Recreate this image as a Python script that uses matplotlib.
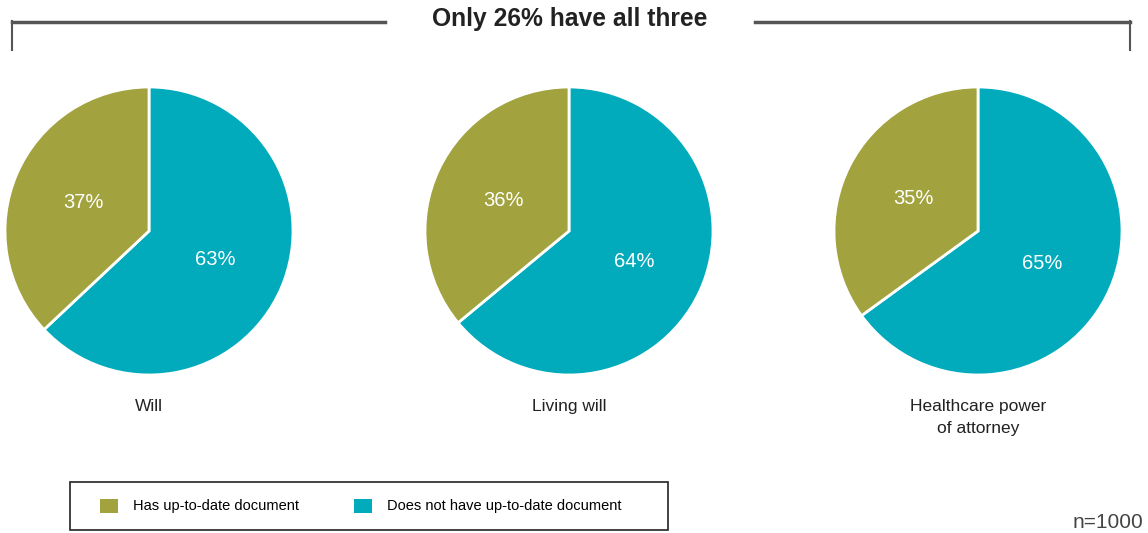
import matplotlib
matplotlib.use("Agg")
import matplotlib.pyplot as plt
from matplotlib.patches import Patch, Rectangle
from matplotlib.lines import Line2D

plt.rcParams['font.family'] = ['Liberation Sans', 'DejaVu Sans']

# Share of respondents with each document (n=1000)
documents = ['Will', 'Living will', 'Healthcare power\nof attorney']
has_doc = [37, 36, 35]
no_doc = [63, 64, 65]
legend_labels = ['Has up-to-date document', 'Does not have up-to-date document']
title = 'Only 26% have all three'
sample_note = 'n=1000'

olive = '#A2A23E'
teal = '#02ABBC'
grey = '#555555'

W, H = 1148, 533
fig = plt.figure(figsize=(W / 100, H / 100), dpi=100)


def px_axes(x0, y0, w, h):
    # pixel box (top-left origin) -> figure axes
    return fig.add_axes([x0 / W, 1 - (y0 + h) / H, w / W, h / H])


centers_x = [149, 569, 978]
cy, r = 231, 144

for cx, name, has, no in zip(centers_x, documents, has_doc, no_doc):
    ax = px_axes(cx - r, cy - r, 2 * r, 2 * r)
    ax.pie([no, has], colors=[teal, olive], startangle=90, counterclock=False,
           autopct='%d%%', pctdistance=0.5,
           wedgeprops=dict(edgecolor='white', linewidth=2),
           textprops=dict(color='white', fontsize=14.5))
    ax.set_xlim(-1.0, 1.0)
    ax.set_ylim(-1.0, 1.0)
    ax.axis('off')
    fig.text(cx / W, 1 - 399 / H, name, ha='center', va='top',
             fontsize=12.5, color='#222222', linespacing=1.55)

# title bracket across the top
fig.add_artist(Line2D([12 / W, 385 / W], [1 - 22 / H] * 2, color=grey, lw=2.5))
fig.add_artist(Line2D([755 / W, 1130 / W], [1 - 22 / H] * 2, color=grey, lw=2.5))
fig.add_artist(Line2D([12 / W] * 2, [1 - 21 / H, 1 - 50 / H], color=grey, lw=1.5))
fig.add_artist(Line2D([1130 / W] * 2, [1 - 21 / H, 1 - 50 / H], color=grey, lw=1.5))
fig.text(570 / W, 1 - 19 / H, title, ha='center', va='center',
         fontsize=17.7, fontweight='bold', color='#222222')

# legend box and entries
fig.add_artist(Rectangle((70 / W, 1 - 530 / H), 598 / W, 48 / H,
                         transform=fig.transFigure, fill=False,
                         edgecolor='#222222', linewidth=1.2))
handles = [Patch(facecolor=olive), Patch(facecolor=teal)]
fig.legend(handles, legend_labels, loc='center left', ncol=2,
           bbox_to_anchor=(100 / W, 1 - 506 / H), frameon=False,
           fontsize=10.5, handlelength=1.25, handleheight=1.1,
           columnspacing=3.8, borderpad=0, borderaxespad=0,
           handletextpad=1.0)

fig.text(1143 / W, 1 - 522 / H, sample_note, ha='right', va='center',
         fontsize=15, color='#444444')

fig.savefig('out.png', dpi=100)
